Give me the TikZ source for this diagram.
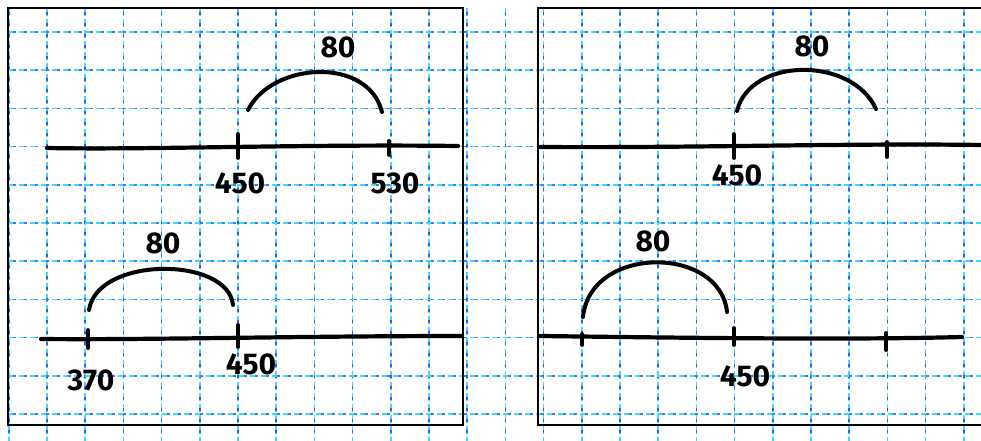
\documentclass[tikz,border=0pt]{standalone}
\usepackage{fontspec}
\setsansfont{Fira Sans}
\begin{document}
\begin{tikzpicture}[x=1pt,y=-1pt,
  gridA/.style={draw={rgb,255:red,60;green,220;blue,255}, line width=1.6pt, dash pattern=on 8pt off 3pt},
  gridB/.style={draw={rgb,255:red,70;green,80;blue,235}, line width=1.6pt, dash pattern=on 3pt off 8pt},
  frame/.style={draw=black, line width=2.4pt},
  numline/.style={draw=black, line width=4.2pt, line cap=round},
  tick/.style={draw=black, line width=3.8pt, line cap=round},
  jump/.style={draw=black, line width=4pt, line cap=round},
  lab/.style={font=\sffamily\bfseries\fontsize{30}{30}\selectfont, inner sep=0pt}]
\useasboundingbox (0,0) rectangle (981,441);
\fill[white] (0,0) rectangle (981,441);
% grid
\foreach \k in {0,...,25}{
  \draw[gridA] ({8.8+38.2*\k},8) -- ({8.8+38.2*\k},441);
  \draw[gridB] ({8.8+38.2*\k},12) -- ({8.8+38.2*\k},441);
}
\foreach \k in {0,...,10}{
  \draw[gridA] (8,{32+38.2*\k}) -- (981,{32+38.2*\k});
  \draw[gridB, opacity=0.7] (13,{32+38.2*\k}) -- (981,{32+38.2*\k});
}
% frames
\draw[frame] (8,8) rectangle (463,425);
\draw[frame] (981,8) -- (538,8) -- (538,425) -- (981,425);

% ---------- left top ----------
\coordinate (LTa) at (47,148);
\coordinate (LTb) at (458,146);
\draw[numline] (LTa) .. controls (150,150) and (300,144) .. (LTb);
\draw[tick] (238,134) -- (238,158);
\draw[tick] (389,141) -- (389,155);
\node[lab] (l450a) at (240,183) {450};
\node[lab] (l530) at (395,183) {530};
\coordinate (LTs) at (248,110);
\coordinate (LTe) at (382,112);
\draw[jump] (LTs) .. controls (272,62) and (368,56) .. (LTe);
\node[lab] (l80a) at (338,47) {80};

% ---------- left bottom ----------
\coordinate (LBa) at (41,339);
\coordinate (LBb) at (462,336);
\draw[numline] (LBa) .. controls (150,340) and (300,336) .. (LBb);
\draw[tick] (88,330) -- (88,348);
\draw[tick] (238,325) -- (238,347);
\node[lab] (l370) at (91,380) {370};
\node[lab] (l450b) at (251,364) {450};
\coordinate (LBs) at (89,310);
\coordinate (LBe) at (233,305);
\draw[jump] (LBs) .. controls (97,256) and (228,256) .. (LBe);
\node[lab] (l80b) at (163,243) {80};

% ---------- right top ----------
\coordinate (RTa) at (540,147);
\coordinate (RTb) at (981,145);
\draw[numline] (RTa) .. controls (700,148) and (850,143) .. (RTb);
\draw[tick] (734,134) -- (734,158);
\draw[tick] (887,142) -- (887,157);
\node[lab] (r450a) at (737,175) {450};
\coordinate (RTs) at (737,111);
\coordinate (RTe) at (876,109);
\draw[jump] (RTs) .. controls (750,57) and (852,56) .. (RTe);
\node[lab] (r80a) at (812,46) {80};

% ---------- right bottom ----------
\coordinate (RBa) at (540,336);
\coordinate (RBb) at (962,337);
\draw[numline] (RBa) .. controls (700,338) and (850,340) .. (RBb);
\draw[tick] (582,334) -- (582,345);
\draw[tick] (734,328) -- (734,345);
\draw[tick] (886,333) -- (886,350);
\node[lab] (r450b) at (745,376) {450};
\coordinate (RBs) at (583,317);
\coordinate (RBe) at (727,312);
\draw[jump] (RBs) .. controls (590,245) and (720,245) .. (RBe);
\node[lab] (r80b) at (653,241) {80};
\end{tikzpicture}
\end{document}
